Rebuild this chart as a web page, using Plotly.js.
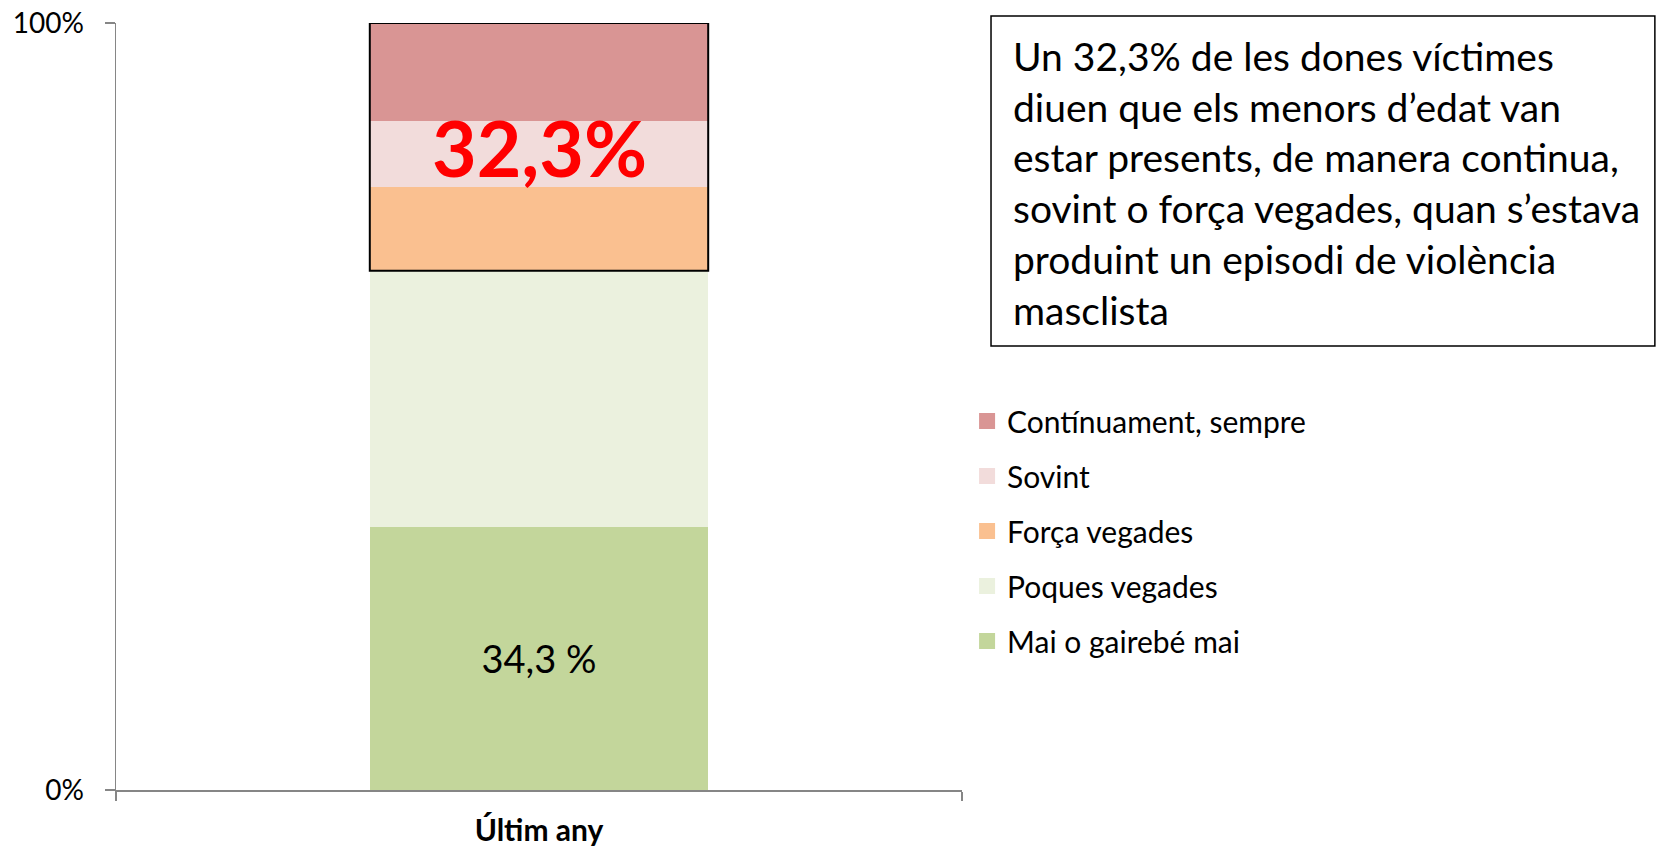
<!DOCTYPE html>
<html>
<head>
<meta charset="utf-8">
<script src="https://cdn.plot.ly/plotly-3.0.1.min.js"></script>
<style>
  html, body { margin: 0; padding: 0; background: #ffffff; }
  #chart { width: 1657px; height: 848px; }
</style>
</head>
<body>
<div id="chart"></div>
<script>
// ---- data ----
const categories = ['Últim any'];
const seriesNames = ['Mai o gairebé mai', 'Poques vegades', 'Força vegades', 'Sovint', 'Contínuament, sempre'];
const maiValues = [34.3];
const poquesValues = [33.4];
const forcaValues = [10.9];
const sovintValues = [8.6];
const continuamentValues = [12.8];
const yTickVals = [0, 100];
const yTickText = ['0%', '100%'];
const noteText = 'Un 32,3% de les dones víctimes<br>diuen que els menors d’edat van<br>estar presents, de manera continua,<br>sovint o força vegades, quan s’estava<br>produint un episodi de violència<br>masclista';

// ---- style ----
const colors = ['#C3D69B', '#EBF1DE', '#FAC090', '#F2DCDB', '#D99594'];
const FONT = 'Lato, "Open Sans", sans-serif';
const bargap = 0.6;
const axisColor = '#868686';

const seriesValues = [maiValues, poquesValues, forcaValues, sovintValues, continuamentValues];

const fmt = v => v.toFixed(1).replace('.', ',');

const traces = [];
seriesValues.forEach((vals, i) => {
  const t = {
    type: 'bar',
    x: categories,
    y: vals,
    name: seriesNames[i],
    marker: { color: colors[i], line: { width: 0 } },
    showlegend: false,
    hoverinfo: 'name+y'
  };
  if (i === 0) {
    t.text = vals.map(v => fmt(v) + ' %');
    t.textposition = 'inside';
    t.insidetextanchor = 'middle';
    t.textfont = { family: FONT, size: 38, color: '#000000' };
    t.constraintext = 'none';
  }
  traces.push(t);
});

// legend entries (top to bottom: reverse of stack order)
for (let i = seriesNames.length - 1; i >= 0; i--) {
  traces.push({
    type: 'scatter',
    mode: 'markers',
    x: [null],
    y: [null],
    name: seriesNames[i],
    legendgroup: 'g' + i,
    marker: { symbol: 'square', size: 16, color: colors[i] },
    showlegend: true,
    hoverinfo: 'skip'
  });
}

// boxed group: top three series
const lowerSum = maiValues[0] + poquesValues[0];
const groupSum = forcaValues[0] + sovintValues[0] + continuamentValues[0];
const half = (1 - bargap) / 2;

const layout = {
  width: 1657,
  height: 848,
  margin: { l: 116, r: 695, t: 23, b: 58 },
  paper_bgcolor: '#ffffff',
  plot_bgcolor: '#ffffff',
  barmode: 'stack',
  bargap: bargap,
  font: { family: FONT, color: '#000000' },
  xaxis: {
    type: 'category',
    showgrid: false,
    showline: true,
    linecolor: axisColor,
    linewidth: 1.5,
    ticks: 'outside',
    tickson: 'boundaries',
    ticklen: 9,
    tickcolor: axisColor,
    tickwidth: 1.5,
    tickfont: { family: FONT, size: 30, color: '#000000', weight: 'bold' },
    ticklabelstandoff: 13,
    fixedrange: true
  },
  yaxis: {
    range: [0, 100],
    showgrid: false,
    zeroline: false,
    showline: true,
    linecolor: axisColor,
    linewidth: 1.5,
    ticks: 'outside',
    ticklen: 10,
    tickcolor: axisColor,
    tickwidth: 1.5,
    tickvals: yTickVals,
    ticktext: yTickText,
    tickfont: { family: FONT, size: 28, color: '#000000' },
    ticklabelstandoff: 15,
    fixedrange: true
  },
  legend: {
    x: 1.006,
    xanchor: 'left',
    y: 0.515,
    yanchor: 'top',
    traceorder: 'grouped',
    tracegroupgap: 13,
    font: { family: FONT, size: 30, color: '#000000' },
    bgcolor: 'rgba(0,0,0,0)'
  },
  shapes: [
    {
      type: 'rect', xref: 'x', yref: 'y',
      x0: -half, x1: half, y0: lowerSum, y1: lowerSum + groupSum,
      line: { color: '#000000', width: 2 }, fillcolor: 'rgba(0,0,0,0)'
    },
    {
      type: 'rect', xref: 'paper', yref: 'paper',
      x0: 1.0343, x1: 1.819, y0: 0.5789, y1: 1.0091,
      line: { color: '#000000', width: 1.5 }, fillcolor: 'rgba(0,0,0,0)'
    }
  ],
  annotations: [
    {
      xref: 'x', yref: 'y',
      x: categories[0], y: lowerSum + groupSum / 2,
      text: fmt(groupSum) + '%',
      showarrow: false,
      font: { family: FONT, size: 77, color: '#FF0000', weight: 'bold' },
      xanchor: 'center', yanchor: 'middle'
    },
    {
      xref: 'paper', yref: 'paper',
      x: 1.058, y: 0.791,
      text: noteText,
      showarrow: false,
      align: 'left',
      xanchor: 'left', yanchor: 'middle',
      font: { family: FONT, size: 39, color: '#000000' }
    }
  ]
};

Plotly.newPlot('chart', traces, layout, { displayModeBar: false, staticPlot: true });
</script>
</body>
</html>
